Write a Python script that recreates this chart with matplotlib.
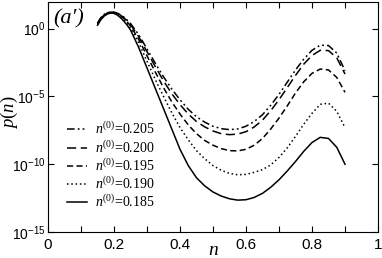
import numpy as np
import matplotlib
matplotlib.use("Agg")
import matplotlib.pyplot as plt
from matplotlib.ticker import FixedLocator, FixedFormatter

plt.rcParams['mathtext.fontset'] = 'custom'
plt.rcParams['mathtext.rm'] = 'Liberation Serif'
plt.rcParams['mathtext.it'] = 'Liberation Serif:italic'
plt.rcParams['mathtext.sf'] = 'Liberation Sans'

n = [0.15, 0.16, 0.17, 0.18, 0.19, 0.20, 0.21, 0.22, 0.23, 0.24, 0.25,
     0.275, 0.30, 0.325, 0.35, 0.375, 0.40, 0.425, 0.45, 0.475, 0.50,
     0.525, 0.55, 0.575, 0.60, 0.625, 0.65, 0.675, 0.70, 0.725, 0.75,
     0.775, 0.80, 0.825, 0.85, 0.875, 0.90]

# log10 p(n)
logp_205 = [0.40, 0.80, 1.05, 1.17, 1.22, 1.21, 1.14, 1.02, 0.85, 0.63, 0.38,
            -0.45, -1.50, -2.55, -3.55, -4.45, -5.25, -5.95, -6.50, -6.90, -7.20,
            -7.38, -7.45, -7.40, -7.20, -6.85, -6.35, -5.65, -4.85, -3.95, -3.05,
            -2.25, -1.60, -1.22, -1.25, -1.80, -3.10]
logp_200 = [0.38, 0.78, 1.02, 1.15, 1.21, 1.20, 1.12, 0.98, 0.80, 0.57, 0.30,
            -0.60, -1.70, -2.80, -3.85, -4.80, -5.60, -6.30, -6.85, -7.25, -7.55,
            -7.75, -7.82, -7.78, -7.60, -7.25, -6.75, -6.05, -5.25, -4.35, -3.45,
            -2.62, -1.98, -1.60, -1.62, -2.15, -3.35]
logp_195 = [0.35, 0.75, 1.00, 1.13, 1.20, 1.18, 1.10, 0.95, 0.75, 0.50, 0.20,
            -0.80, -2.00, -3.20, -4.35, -5.40, -6.30, -7.10, -7.75, -8.25, -8.60,
            -8.85, -9.00, -9.02, -8.90, -8.60, -8.10, -7.40, -6.60, -5.70, -4.75,
            -3.92, -3.30, -2.98, -3.05, -3.60, -4.70]
logp_190 = [0.30, 0.70, 0.95, 1.10, 1.17, 1.15, 1.05, 0.88, 0.65, 0.38, 0.05,
            -1.05, -2.40, -3.75, -5.00, -6.20, -7.30, -8.20, -9.00, -9.60, -10.10,
            -10.45, -10.68, -10.78, -10.75, -10.60, -10.40, -10.05, -9.50, -8.80, -7.95,
            -7.05, -6.25, -5.58, -5.50, -6.10, -7.30]
logp_185 = [0.25, 0.65, 0.92, 1.08, 1.15, 1.12, 1.00, 0.80, 0.55, 0.25, -0.10,
            -1.40, -2.90, -4.40, -5.90, -7.40, -8.90, -10.10, -11.00, -11.60, -12.05,
            -12.35, -12.55, -12.65, -12.62, -12.45, -12.15, -11.70, -11.15, -10.50, -9.80,
            -9.05, -8.40, -8.02, -8.10, -8.75, -10.00]

labels = ['0.205', '0.200', '0.195', '0.190', '0.185']
series = [logp_205, logp_200, logp_195, logp_190, logp_185]
styles = [(0, (5, 2, 1.2, 2, 1.2, 2)), (0, (6, 3)), (0, (4, 2.2)), (0, (1, 1.8)), '-']

xticks = [0, 0.2, 0.4, 0.6, 0.8, 1]
xticklabels = ['0', '0.2', '0.4', '0.6', '0.8', '1']
yticks = [1e-15, 1e-10, 1e-5, 1e0]
yticklabels = [r'$\mathsf{10^{-15}}$', r'$\mathsf{10^{-10}}$', r'$\mathsf{10^{-5}}$', r'$\mathsf{10^{0}}$']

W, H = 382, 258
fig = plt.figure(figsize=(W / 100, H / 100), dpi=100)
ax = fig.add_axes([48 / W, 1 - 232 / H, 330 / W, 230.5 / H])

for lab, lp, ls in zip(labels, series, styles):
    ax.plot(n, 10.0 ** np.array(lp), color='black', lw=1.1, linestyle=ls,
            label=r'$n^{(0)}$=' + lab)

ax.set_yscale('log')
ax.set_xlim(0, 1)
ax.set_ylim(1e-15, 1e2)
ax.xaxis.set_major_locator(FixedLocator(xticks))
ax.xaxis.set_major_formatter(FixedFormatter(xticklabels))
ax.xaxis.set_minor_locator(FixedLocator([0.1, 0.3, 0.5, 0.7, 0.9]))
ax.yaxis.set_major_locator(FixedLocator(yticks))
ax.yaxis.set_major_formatter(FixedFormatter(yticklabels))
ax.yaxis.set_minor_locator(FixedLocator([]))
ax.tick_params(which='both', direction='in', top=True, right=True,
               length=4, width=0.8)
ax.tick_params(axis='y', pad=2.0, labelsize=10)
ax.tick_params(axis='x', pad=4, labelsize=11)
for lbl in ax.get_xticklabels():
    lbl.set_fontfamily('Liberation Sans')
for sp in ax.spines.values():
    sp.set_linewidth(0.8)

fig.text(213 / W, 1 - 249.5 / H, r'$n$', fontsize=14, ha='center', va='center')
fig.text(9.5 / W, 1 - 112 / H, r'$p(n)$', fontsize=13.5, ha='center', va='center',
         rotation=90)
ax.text(53 / W, 1 - 19 / H, '(a\u2032)', transform=fig.transFigure, fontsize=16,
        family=['Liberation Serif', 'DejaVu Serif'], style='italic',
        ha='left', va='center')

leg = ax.legend(loc='lower left', bbox_to_anchor=(0.04, 0.07), frameon=False,
                handlelength=1.45, handletextpad=0.55,
                labelspacing=0.12, borderaxespad=0.0,
                prop={'family': 'Liberation Serif', 'size': 10})

fig.savefig('out.png', dpi=100)
